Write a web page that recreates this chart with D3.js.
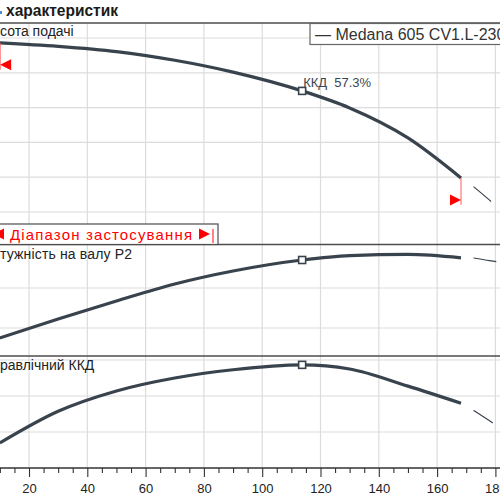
<!DOCTYPE html>
<html>
<head>
<meta charset="utf-8">
<script src="https://cdn.jsdelivr.net/npm/d3@7"></script>
<style>
  body { margin: 0; background: #fff; }
  svg { display: block; font-family: "Liberation Sans", Arial, sans-serif; }
</style>
</head>
<body>
<svg width="500" height="500"></svg>
<script>
// Data (flow Q, head H, shaft power P2, hydraulic efficiency)
var flow   = [10, 30, 50, 70, 90, 113.7, 130, 150, 168.2];
var head   = [58.6, 57.6, 56.1, 53.6, 50.2, 44.8, 39.9, 31.3, 19.8];
var power  = [550, 645, 735, 820, 885, 940, 962, 968, 951];
var eff    = [13.9, 31.5, 42.8, 50.0, 54.6, 57.3, 55.0, 45.5, 36.0];

// thin continuation past the range of use
var flowExt  = [172.5, 178, 184];
var headExt  = [17.3, 13.4, 8.8];
var powerExt = [950, 937, 925];
var effExt   = [32.0, 26.2, 19.8];

var bepFlow = 113.7;
var bepLabel = "ККД\u00a0\u00a057.3%";
var rangeMin = 10.1, rangeMax = 168.2;
var xTicks = [20, 40, 60, 80, 100, 120, 140, 160, 180];
var headGrid = [10, 20, 30, 40, 50, 60];
var powerGrid = [600, 800];
var effGrid = [20, 40, 60];

var W = 500;
var svg = d3.select("svg");
var curveColor = "#39434d";

var x = d3.scaleLinear().domain([0, 180]).range([-29.3, 495.4]);
var yH = d3.scaleLinear().domain([10, 60]).range([212, 38]);
var yP = d3.scaleLinear().domain([600, 800]).range([328, 288]);
var yE = d3.scaleLinear().domain([0, 60]).range([468, 360]);

var panelTop = [23, 244.5, 356];
var axisY = 468;

// grid
var grid = svg.append("g").attr("stroke", "#dcdcdc").attr("stroke-width", 1.2);
grid.selectAll(".v").data(xTicks).enter().append("line")
  .attr("x1", function(d) { return x(d); }).attr("x2", function(d) { return x(d); })
  .attr("y1", panelTop[0]).attr("y2", axisY);
[[headGrid, yH], [powerGrid, yP], [effGrid, yE]].forEach(function(p) {
  grid.selectAll(null).data(p[0]).enter().append("line")
    .attr("x1", 0).attr("x2", W)
    .attr("y1", function(d) { return p[1](d); }).attr("y2", function(d) { return p[1](d); });
});

// panel borders
svg.append("g").selectAll("line").data(panelTop).enter().append("line")
  .attr("x1", 0).attr("x2", W).attr("y1", function(d) { return d; }).attr("y2", function(d) { return d; })
  .attr("stroke", "#4d4d4d").attr("stroke-width", 1.3);

// curves
function draw(vals, ext, y) {
  var pts = flow.map(function(q, i) { return [q, vals[i]]; });
  var line = d3.line().x(function(d) { return x(d[0]); }).y(function(d) { return y(d[1]); })
    .curve(d3.curveMonotoneX);
  svg.append("path").datum(pts).attr("d", line)
    .attr("fill", "none").attr("stroke", curveColor).attr("stroke-width", 3.2);
  var e = flowExt.map(function(q, i) { return [q, ext[i]]; });
  svg.append("path").datum(e).attr("d", line)
    .attr("fill", "none").attr("stroke", curveColor).attr("stroke-width", 1.2)
    .attr("stroke-dasharray", "23,15");
  // BEP marker
  var bi = flow.indexOf(bepFlow);
  svg.append("rect")
    .attr("x", x(bepFlow) - 3.5).attr("y", y(vals[bi]) - 3.5)
    .attr("width", 7).attr("height", 7)
    .attr("fill", "#fff").attr("stroke", curveColor).attr("stroke-width", 1.6);
  return vals[bi];
}
var hb = draw(head, headExt, yH);
draw(power, powerExt, yP);
draw(eff, effExt, yE);

svg.append("text").attr("x", x(bepFlow) + 1).attr("y", yH(hb) - 4)
  .attr("font-size", 13).attr("fill", "#3b4650").text(bepLabel);

// range-of-use markers on head curve
function rangeMark(px, py, dir) {
  svg.append("line").attr("x1", px).attr("x2", px).attr("y1", py).attr("y2", py + 27)
    .attr("stroke", "#ff5a5a").attr("stroke-width", 1);
  var t = py + 22;
  var pts = dir < 0
    ? [[px, t], [px + 11, t - 5.5], [px + 11, t + 5.5]]
    : [[px, t], [px - 11, t - 5.5], [px - 11, t + 5.5]];
  svg.append("polygon").attr("points", pts.map(function(p) { return p.join(","); }).join(" "))
    .attr("fill", "#ff0000");
}
rangeMark(x(rangeMin), yH(head[0]), -1);
rangeMark(x(rangeMax), yH(head[head.length - 1]), 1);

// title
svg.append("rect").attr("x", 0).attr("y", 11).attr("width", 2).attr("height", 3).attr("fill", "#4a90d9");
svg.append("text").attr("x", 6).attr("y", 16).attr("font-size", 16).attr("font-weight", "bold")
  .attr("fill", "#1a1a1a").attr("textLength", 112).attr("lengthAdjust", "spacingAndGlyphs")
  .text("характеристик");

// legend box
svg.append("rect").attr("x", 310).attr("y", 23.5).attr("width", 200).attr("height", 21)
  .attr("fill", "#fff").attr("stroke", "#666").attr("stroke-width", 1.2);
svg.append("text").attr("x", 315).attr("y", 39.5).attr("font-size", 16).attr("fill", "#333")
  .text("— Medana 605 CV1.L-230");

// range of use box
svg.append("rect").attr("x", -2).attr("y", 224).attr("width", 220).attr("height", 20.5)
  .attr("fill", "#fff").attr("stroke", "#4d4d4d").attr("stroke-width", 1.2);
svg.append("polygon").attr("points", "-7,234 4,228.5 4,239.5").attr("fill", "#ff0000");
svg.append("text").attr("x", 10).attr("y", 240).attr("font-size", 15).attr("fill", "#ff0000")
  .attr("textLength", 182).attr("lengthAdjust", "spacing").text("Діапазон застосування");
svg.append("polygon").attr("points", "210,234 199,228.5 199,239.5").attr("fill", "#ff0000");
svg.append("line").attr("x1", 213).attr("x2", 213).attr("y1", 229).attr("y2", 243)
  .attr("stroke", "#ff3030").attr("stroke-width", 1.2);

// panel labels
svg.append("text").attr("x", 0).attr("y", 36).attr("font-size", 14).attr("fill", "#222").text("сота подачі");
svg.append("text").attr("x", 0).attr("y", 259).attr("font-size", 14).attr("fill", "#222")
  .attr("textLength", 132).attr("lengthAdjust", "spacing").text("тужність на валу  P2");
svg.append("text").attr("x", 0).attr("y", 370).attr("font-size", 14).attr("fill", "#222").text("равлічний ККД");

// x axis
var minor = d3.range(0, 185, 5).filter(function(d) { return d % 20 !== 0; });
var gMinor = svg.append("g").attr("transform", "translate(0," + axisY + ")")
  .call(d3.axisBottom(x).tickValues(minor).tickSize(5).tickFormat(""));
var gMajor = svg.append("g").attr("transform", "translate(0," + axisY + ")")
  .call(d3.axisBottom(x).tickValues(xTicks).tickSize(9).tickPadding(7));
gMinor.select(".domain").remove();
gMajor.select(".domain").remove();
svg.selectAll(".tick line").attr("stroke", "#333").attr("stroke-width", 1.1);
gMajor.selectAll("text").attr("font-size", 13).attr("fill", "#222")
  .attr("font-family", "Liberation Sans, Arial, sans-serif");
svg.append("line").attr("x1", 0).attr("x2", W).attr("y1", axisY).attr("y2", axisY)
  .attr("stroke", "#333").attr("stroke-width", 1.3);
</script>
</body>
</html>
